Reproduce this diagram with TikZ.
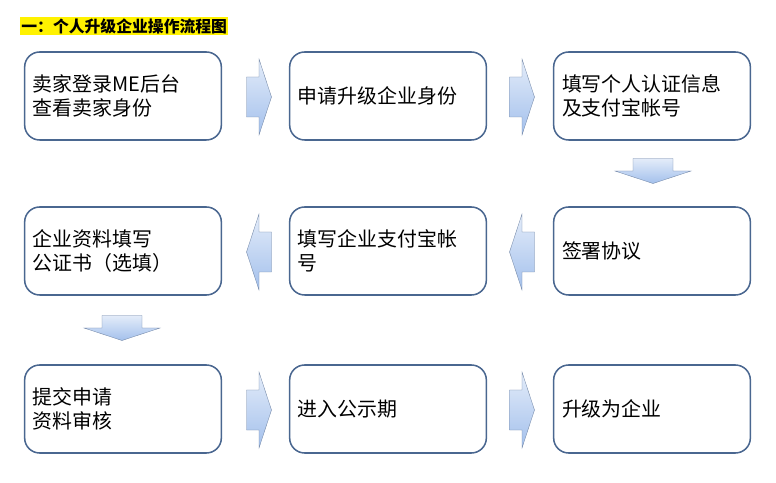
\documentclass[tikz,border=0pt]{standalone}
\usepackage{fontspec}
\newfontfamily\cjk{Noto Sans CJK SC}
\definecolor{boxline}{HTML}{4A6790}
\definecolor{arrowblue}{HTML}{A3C0EC}

\tikzset{
  stepbox/.style={draw=boxline, line width=1.3pt, rounded corners=0.45cm, fill=white,
    minimum width=5.9cm, minimum height=2.64cm, text width=5.4cm, align=left,
    font=\cjk\fontsize{17}{20}\selectfont, inner xsep=0.25cm},
  pics/flowarrow/.style={code={
    \path[draw=arrowblue!70!black, line width=0.3pt, top color=arrowblue!30, bottom color=arrowblue]
      (-12.5,-20) -- (0,-20) -- (0,-38) -- (12.5,0) -- (0,38) -- (0,20) -- (-12.5,20) -- cycle;
  }},
}

\begin{document}
\begin{tikzpicture}[x=0.03cm, y=-0.03cm]
  \useasboundingbox (0,0) rectangle (776,483);

  % title
  \node [anchor=west, fill=yellow, inner sep=1pt, font=\cjk\bfseries\fontsize{13.5}{15}\selectfont] (title) at (20,26) {一：个人升级企业操作流程图};

  % first row
  \node [stepbox] (login) at (123,96) {卖家登录ME后台\\查看卖家身份};
  \node [stepbox] (apply) at (388,96) {申请升级企业身份};
  \node [stepbox] (personal) at (652,96) {填写个人认证信息\\及支付宝帐号};

  % second row
  \node [stepbox] (info) at (123,251) {企业资料填写\\公证书（选填）};
  \node [stepbox] (alipay) at (388,251) {填写企业支付宝帐\\号};
  \node [stepbox] (sign) at (652,251) {签署协议};

  % third row
  \node [stepbox] (submit) at (123,409) {提交申请\\资料审核};
  \node [stepbox] (notice) at (388,409) {进入公示期};
  \node [stepbox] (done) at (652,409) {升级为企业};

  % block arrows
  \pic at (259,97) {flowarrow};
  \pic at (522,97) {flowarrow};
  \pic [rotate=-90] at (653,171) {flowarrow};
  \pic [rotate=180] at (522,252) {flowarrow};
  \pic [rotate=180] at (259,252) {flowarrow};
  \pic [rotate=-90] at (122,328) {flowarrow};
  \pic at (259,410) {flowarrow};
  \pic at (522,410) {flowarrow};
\end{tikzpicture}
\end{document}
